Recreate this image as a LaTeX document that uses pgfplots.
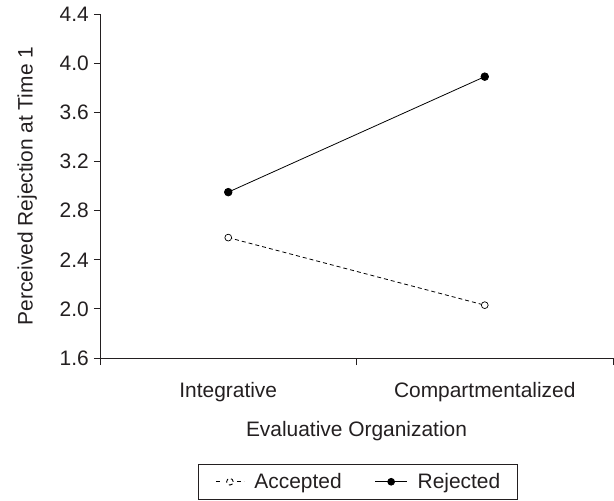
\documentclass[border=0pt]{standalone}
\usepackage{pgfplots}
\pgfplotsset{compat=1.18}
\usepackage{fontspec}
\setmainfont{Liberation Sans}
\definecolor{txt}{HTML}{231F20}

\begin{document}
\begin{tikzpicture}[x=1bp,y=1bp]
% fixed page frame
\path[use as bounding box] (-100,-143) rectangle (514,358);
\begin{axis}[
  at={(0,0)}, anchor=south west,
  scale only axis, width=513bp, height=344bp,
  xmin=0.5, xmax=2.5, ymin=1.6, ymax=4.4,
  axis x line*=bottom, axis y line*=left,
  axis line style={line width=0.9pt, color=txt},
  xtick={1,2}, xticklabels={Integrative, Compartmentalized},
  major x tick style={draw=none},
  minor xtick={0.5,1.5,2.5},
  minor x tick style={line width=0.9pt, color=txt},
  minor tick length=7bp,
  ytick={1.6,2.0,...,4.4},
  y tick style={line width=0.9pt, color=txt},
  major tick length=6bp,
  tick align=outside,
  yticklabel style={/pgf/number format/fixed, /pgf/number format/fixed zerofill,
    /pgf/number format/precision=1, inner xsep=5bp},
  /pgf/number format/assume math mode=true,
  tick label style={font=\fontsize{21}{25}\selectfont, text=txt},
  label style={font=\fontsize{21}{25}\selectfont, text=txt},
  xticklabel style={anchor=base, yshift=-33bp},
  xlabel={Evaluative Organization},
  xlabel style={at={(axis description cs:0.5,0)}, anchor=base, yshift=-78bp},
  ylabel={Perceived Rejection at Time 1},
  ylabel style={at={(axis description cs:-0.142,0.5)}, anchor=center, rotate=0},
  legend columns=2,
  legend style={at={(axis description cs:0.191,-0.3081)}, anchor=north west,
    draw=txt, line width=0.9pt, font=\fontsize{21}{25}\selectfont, text=txt,
    inner xsep=17bp, inner ysep=9bp,
    nodes={inner sep=0pt},
    /tikz/every odd column/.style={column sep=10bp},
    /tikz/every even column/.style={column sep=33bp}},
  legend image code/.code={
    \draw[#1, line width=0.8pt] (0bp,0bp) -- (30bp,0bp);
    \path[#1, solid] plot coordinates {(15bp,0bp)};
  },
  clip=false,
]
\addplot[color=black, line width=0.8pt, dash pattern=on 4bp off 3bp,
  mark=*, mark size=3.4bp, mark options={solid, fill=white, line width=0.7pt},
  legend image code/.code={
    \draw[black, line width=1pt] (0bp,0bp) -- (7bp,0bp) (21bp,0bp) -- (28bp,0bp);
    \draw[black, fill=white, line width=0.9pt] (14bp,0bp) circle[radius=3.3bp];
  }]
  coordinates {(1,2.58) (2,2.03)};
\addlegendentry{Accepted}
\addplot[color=black, line width=0.8pt,
  mark=*, mark size=3.8bp, mark options={solid, fill=black},
  legend image code/.code={
    \draw[black, line width=1pt] (0bp,0bp) -- (32bp,0bp);
    \fill[black] (16bp,0bp) circle[radius=3.4bp];
  }]
  coordinates {(1,2.95) (2,3.89)};
\addlegendentry{Rejected}
\end{axis}
\end{tikzpicture}
\end{document}
